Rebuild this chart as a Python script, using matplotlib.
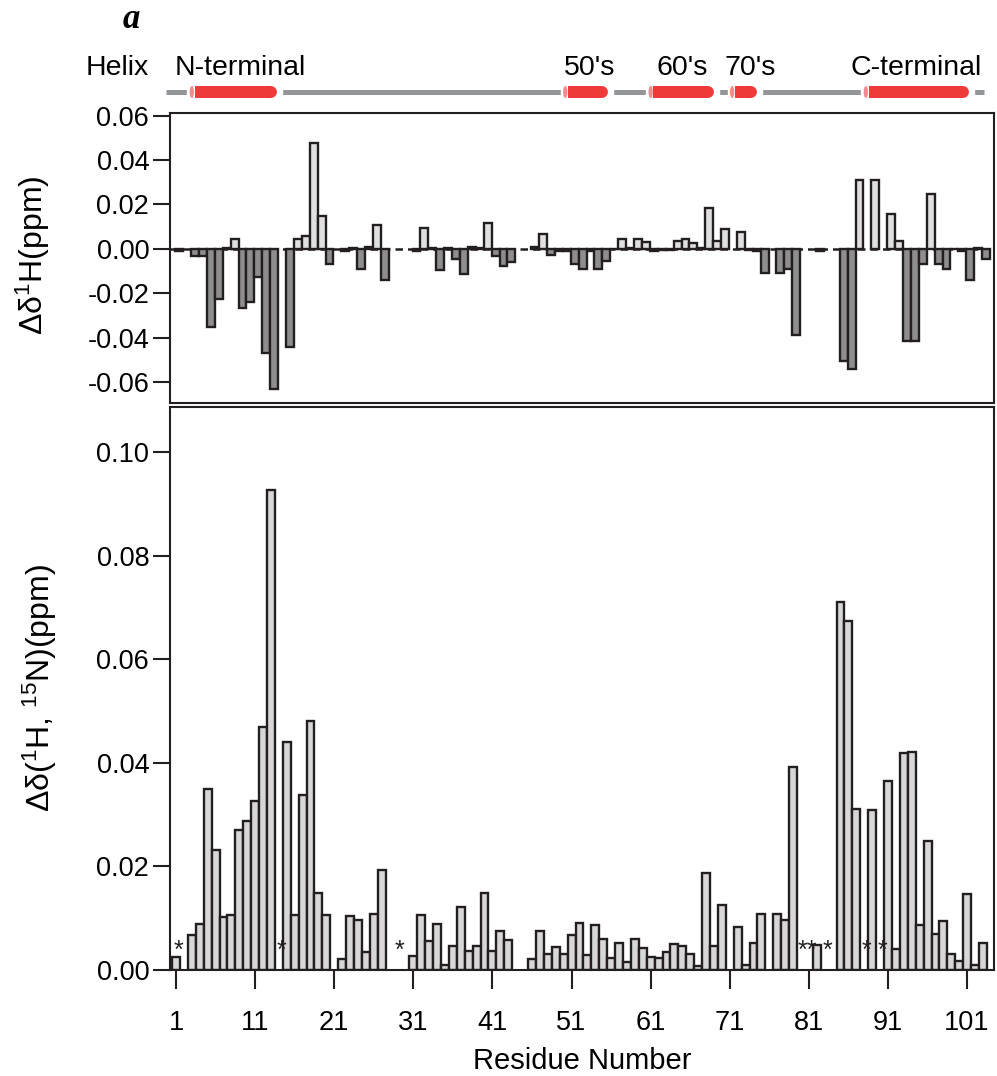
import numpy as np
import matplotlib
matplotlib.use("Agg")
import matplotlib.pyplot as plt
from matplotlib.patches import Ellipse, Rectangle

plt.rcParams['font.family'] = ['Liberation Sans', 'DejaVu Sans']
plt.rcParams['mathtext.fontset'] = 'custom'
plt.rcParams['mathtext.rm'] = 'Liberation Sans'
plt.rcParams['mathtext.it'] = 'Liberation Sans:italic'

nan = np.nan
residues = np.arange(1, 104)

# delta 1H (ppm), residues 1..103 (nan = no data)
shift_1h = [
    -0.0008, nan, -0.0033, -0.0033, -0.0352, -0.0227, 0.0005, 0.0042, -0.0268, -0.0238,
    -0.0127, -0.0468, -0.0632, nan, -0.0442, 0.0042, 0.0058, 0.0477, 0.0148, -0.0067,
    nan, -0.0010, 0.0003, -0.0091, 0.0010, 0.0106, -0.0139, nan, nan, nan,
    -0.0010, 0.0095, 0.0005, -0.0094, 0.0003, -0.0048, -0.0112, 0.0010, 0.0003, 0.0115,
    -0.0033, -0.0079, -0.0059, nan, nan, 0.0010, 0.0065, -0.0026, -0.0012, -0.0012,
    -0.0067, -0.0091, -0.0008, -0.0091, -0.0056, -0.0003, 0.0042, 0.0003, 0.0042, 0.0030,
    -0.0010, -0.0005, -0.0005, 0.0035, 0.0042, 0.0024, 0.0003, 0.0186, 0.0035, 0.0088,
    nan, 0.0076, -0.0005, -0.0010, -0.0109, nan, -0.0109, -0.0091, -0.0389, nan,
    nan, -0.0010, nan, nan, -0.0506, -0.0541, 0.0308, nan, 0.0308, nan,
    0.0156, 0.0035, -0.0415, -0.0415, -0.0067, 0.0247, -0.0067, -0.0091, -0.0003, -0.0010,
    -0.0139, 0.0003, -0.0045,
]

# combined delta (1H, 15N) (ppm), residues 1..103
shift_comb = [
    0.0025, nan, 0.0067, 0.0088, 0.0349, 0.0232, 0.0102, 0.0106, 0.0270, 0.0288,
    0.0327, 0.0470, 0.0927, nan, 0.0440, 0.0106, 0.0337, 0.0480, 0.0149, 0.0106,
    nan, 0.0022, 0.0104, 0.0097, 0.0035, 0.0109, 0.0194, nan, nan, nan,
    0.0027, 0.0106, 0.0056, 0.0089, 0.0010, 0.0047, 0.0121, 0.0036, 0.0046, 0.0149,
    0.0036, 0.0076, 0.0057, nan, nan, 0.0021, 0.0076, 0.0030, 0.0045, 0.0031,
    0.0068, 0.0091, 0.0028, 0.0087, 0.0059, 0.0023, 0.0052, 0.0016, 0.0059, 0.0042,
    0.0026, 0.0023, 0.0034, 0.0051, 0.0047, 0.0031, 0.0007, 0.0187, 0.0046, 0.0125,
    nan, 0.0083, 0.0009, 0.0052, 0.0108, nan, 0.0109, 0.0097, 0.0392, nan,
    nan, 0.0048, nan, nan, 0.0710, 0.0674, 0.0311, nan, 0.0309, nan,
    0.0365, 0.0040, 0.0419, 0.0421, 0.0086, 0.0250, 0.0070, 0.0094, 0.0030, 0.0018,
    0.0147, 0.0009, 0.0052,
]

asterisk_res = [1, 14, 29, 80, 81, 83, 88, 90]

helix_names = ["N-terminal", "50's", "60's", "70's", "C-terminal"]
helix_start = [3.0, 50.2, 61.0, 71.3, 88.2]
helix_end = [13.8, 55.7, 69.1, 74.5, 101.3]

x_ticks = list(range(1, 102, 10))

W, H = 997, 1076
EDGE = '#231f20'
LIGHT = '#d7d7d7'
LIGHT_TOP = '#e0e0e0'
DARK = '#8e8e8e'
RED = '#ee3b3a'
PINK = '#f28b8f'
GRAY = '#939598'
XLIM = (0.24, 104.4)


def box(l, t, r, b):
    return [l / W, 1 - b / H, (r - l) / W, (b - t) / H]


fig = plt.figure(figsize=(W / 100, H / 100), dpi=100)

# ---- top panel: delta 1H
ax1 = fig.add_axes(box(170, 113, 994, 403))
v1 = np.array(shift_1h)
m1 = ~np.isnan(v1)
cols = np.where(v1[m1] >= 0, LIGHT_TOP, DARK)
ax1.axhline(0, color=EDGE, lw=1.8, ls=(0, (3, 2)), zorder=1)
ax1.bar(residues[m1] + 0.4, v1[m1], width=1.0, color=cols, edgecolor=EDGE,
        linewidth=1.7, zorder=2)
ax1.set_xlim(*XLIM)
ax1.set_ylim(-0.0695, 0.0612)
ax1.set_yticks(np.arange(-0.06, 0.061, 0.02))
ax1.set_yticklabels(['%.2f' % t for t in np.arange(-0.06, 0.061, 0.02)])
ax1.set_xticks([])
ax1.tick_params(axis='y', direction='out', length=12, width=1.5, pad=3,
                labelsize=19.5, color=EDGE)
for s in ax1.spines.values():
    s.set_linewidth(1.5)
    s.set_color(EDGE)
ax1.set_ylabel('Δδ$^{1}$H(ppm)', fontsize=23)
ax1.yaxis.set_label_coords(-0.143, 0.51)

# ---- bottom panel: combined shift
ax2 = fig.add_axes(box(170, 407, 994, 970))
v2 = np.array(shift_comb)
m2 = ~np.isnan(v2)
ax2.bar(residues[m2], v2[m2], width=1.0, color=LIGHT, edgecolor=EDGE,
        linewidth=1.7, zorder=2)

# asterisks: neighbouring residues share one label ("**")
groups = []
for r in asterisk_res:
    if groups and r - groups[-1][-1] == 1:
        groups[-1].append(r)
    else:
        groups.append([r])
for g in groups:
    ax2.text(np.mean(g) + 0.3, 0.0037, '*' * len(g), ha='center', va='center',
             fontsize=18, color=EDGE, zorder=3)

ax2.set_xlim(*XLIM)
ax2.set_ylim(0, 0.1087)
ax2.set_yticks(np.arange(0, 0.101, 0.02))
ax2.set_yticklabels(['%.2f' % t for t in np.arange(0, 0.101, 0.02)])
ax2.set_xticks(x_ticks)
ax2.tick_params(axis='y', direction='out', length=12, width=1.5, pad=3,
                labelsize=19.5, color=EDGE)
ax2.tick_params(axis='x', direction='out', length=14, width=1.5, pad=15,
                labelsize=19.5, color=EDGE)
for s in ax2.spines.values():
    s.set_linewidth(1.5)
    s.set_color(EDGE)
ax2.set_ylabel('Δδ($^{1}$H, $^{15}$N)(ppm)', fontsize=23)
ax2.yaxis.set_label_coords(-0.135, 0.5)
ax2.set_xlabel('Residue Number', fontsize=21, labelpad=8)

# ---- helix band
axh = fig.add_axes(box(170, 80, 994, 104))
axh.set_xlim(*XLIM)
axh.set_ylim(0, 24)
axh.axis('off')
axh.plot([-0.3, 103.1], [12, 12], color=GRAY, lw=3.6, solid_capstyle='butt',
         clip_on=False, zorder=1)
for s, e in zip(helix_start, helix_end):
    axh.add_patch(Rectangle((s - 0.55, 0), e - s + 1.1, 24, color='white',
                            zorder=2, clip_on=False))
    axh.plot([s + 0.35, e - 0.8], [12, 12], color=RED, lw=8.6,
             solid_capstyle='butt', zorder=3, clip_on=False)
    axh.plot([e - 1.2, e - 0.8], [12, 12], color=RED, lw=8.6,
             solid_capstyle='round', zorder=3, clip_on=False)
    axh.add_patch(Ellipse((s, 12), 0.55, 12, facecolor=PINK, edgecolor='none',
                          zorder=4, clip_on=False))

# helix labels
fig.text(117 / W, 1 - 75 / H, 'Helix', ha='center', va='baseline', fontsize=20.5)
for name, x in zip(helix_names, [240, 590, 682, 750, 916]):
    fig.text(x / W, 1 - 75 / H, name, ha='center', va='baseline', fontsize=20.5)

fig.text(131 / W, 1 - 20 / H, 'a', ha='center', va='center', fontsize=25,
         family='Liberation Serif', style='italic', weight='bold')

plt.savefig('out.png', dpi=100)
